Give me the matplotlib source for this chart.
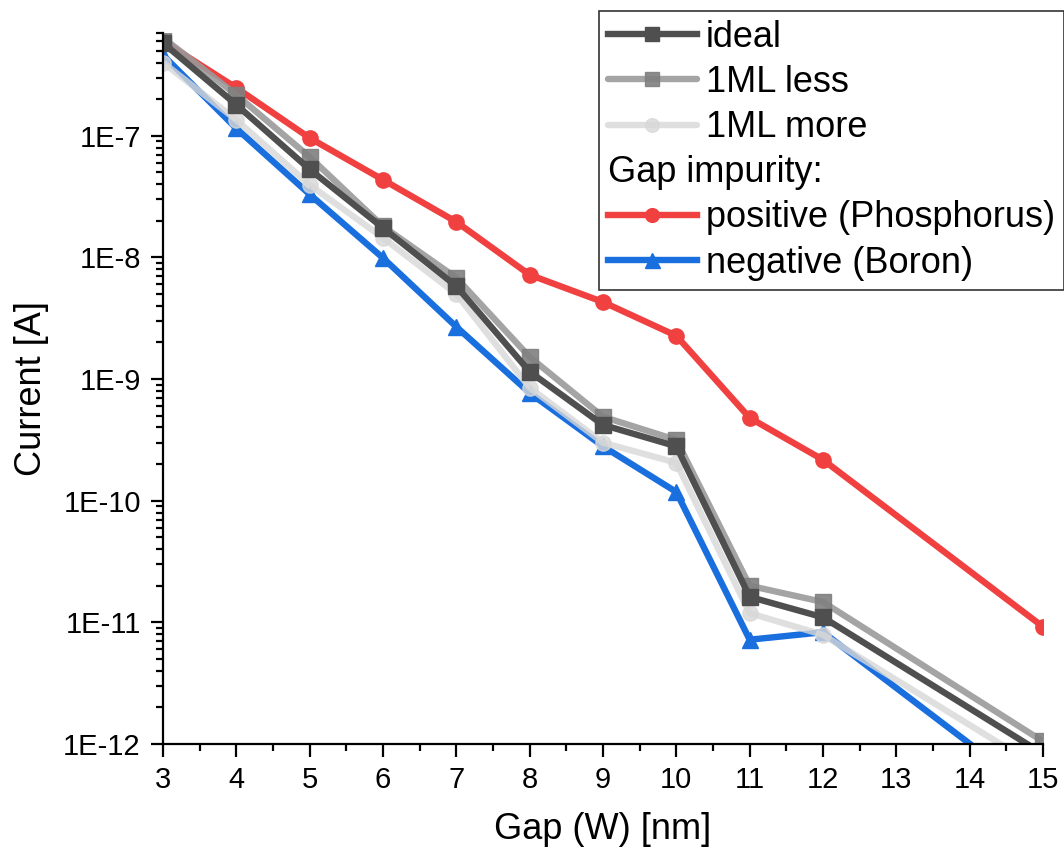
import math
import matplotlib
matplotlib.use("Agg")
import matplotlib.pyplot as plt
from matplotlib.lines import Line2D
from matplotlib.ticker import LogLocator, FixedLocator, NullFormatter, FuncFormatter

plt.rcParams['font.family'] = ['Liberation Sans', 'DejaVu Sans']

gap = [3, 4, 5, 6, 7, 8, 9, 10, 11, 12, 15]

ideal = [5.8e-7, 1.8e-7, 5.3e-8, 1.75e-8, 5.8e-9, 1.15e-9, 4.2e-10, 2.8e-10,
         1.62e-11, 1.1e-11, 8.3e-13]
ml_less = [6.4e-7, 2.17e-7, 6.7e-8, 1.8e-8, 6.8e-9, 1.52e-9, 4.9e-10, 3.16e-10,
           2.0e-11, 1.47e-11, 1.05e-12]
ml_more = [4.0e-7, 1.35e-7, 3.95e-8, 1.45e-8, 5.0e-9, 8.5e-10, 3.0e-10, 2.05e-10,
           1.19e-11, 7.9e-12, 6.1e-13]
positive = [6.0e-7, 2.48e-7, 9.6e-8, 4.35e-8, 1.96e-8, 7.2e-9, 4.3e-9, 2.27e-9,
            4.8e-10, 2.17e-10, 9.2e-12]
negative = [4.6e-7, 1.15e-7, 3.3e-8, 9.9e-9, 2.69e-9, 7.7e-10, 2.8e-10, 1.18e-10,
            7.2e-12, 8.3e-12, 3.5e-13]

fig = plt.figure(figsize=(10.64, 8.56), dpi=100)
ax = fig.add_axes([163 / 1064, 112 / 856, 880 / 1064, 711 / 856])

lw = 4.6
ms = 11
l_pos, = ax.plot(gap, positive, '-o', color='#f04040', lw=lw, ms=ms)
l_neg, = ax.plot(gap, negative, '-^', color='#1a6fdf', lw=lw, ms=ms + 1)
l_more, = ax.plot(gap, ml_more, '-o', color='#d8d8d8', lw=lw, ms=ms, alpha=0.8,
                  solid_capstyle='round')
l_less, = ax.plot(gap, ml_less, '-s', color='#9a9a9a', lw=lw, ms=ms, alpha=0.9,
                  markerfacecolor='#808080', markeredgecolor='#808080',
                  solid_capstyle='round')
l_ideal, = ax.plot(gap, ideal, '-s', color='#4f4f4f', lw=lw, ms=ms)

ax.set_yscale('log')
ax.set_xlim(3, 15)
ax.set_ylim(1e-12, 7e-7)

ax.xaxis.set_major_locator(FixedLocator(range(3, 16)))
ax.xaxis.set_minor_locator(FixedLocator([x + 0.5 for x in range(3, 15)]))
ax.yaxis.set_major_locator(LogLocator(base=10, numticks=20))
ax.yaxis.set_minor_locator(LogLocator(base=10, subs=range(2, 10), numticks=20))
ax.yaxis.set_minor_formatter(NullFormatter())
ax.yaxis.set_major_formatter(FuncFormatter(lambda v, p: '1E%d' % round(math.log10(v))))

for s in ['top', 'right']:
    ax.spines[s].set_visible(False)
for s in ['left', 'bottom']:
    ax.spines[s].set_linewidth(1.6)

ax.tick_params(which='major', direction='out', length=9, width=1.6, labelsize=21, pad=7)
ax.tick_params(which='minor', direction='out', length=5, width=1.6)

ax.set_xlabel('Gap (W) [nm]', fontsize=26, labelpad=13)
ax.set_ylabel('Current [A]', fontsize=26, labelpad=10)

blank = Line2D([], [], linestyle='none', marker='none')
handles = [l_ideal, l_less, l_more, blank, l_pos, l_neg]
labels = ['ideal', '1ML less', '1ML more', 'Gap impurity:',
          'positive (Phosphorus)', 'negative (Boron)']
leg = fig.legend(handles, labels, loc='upper left', bbox_to_anchor=(599 / 1064, 1 - 11 / 856),
                 fontsize=26, frameon=True, fancybox=False, shadow=False,
                 handlelength=2.45, handletextpad=0.25, labelspacing=0.28,
                 borderpad=0.25, borderaxespad=0, markerscale=0.9)
leg.get_frame().set_edgecolor('black')
leg.get_frame().set_linewidth(1.2)

# put "Gap impurity:" flush left, without handle space
col = leg._legend_handle_box.get_children()[0]
item = col.get_children()[3]
item.get_children()[0].width = 0
item.sep = 0

fig.savefig('out.png', dpi=100)
